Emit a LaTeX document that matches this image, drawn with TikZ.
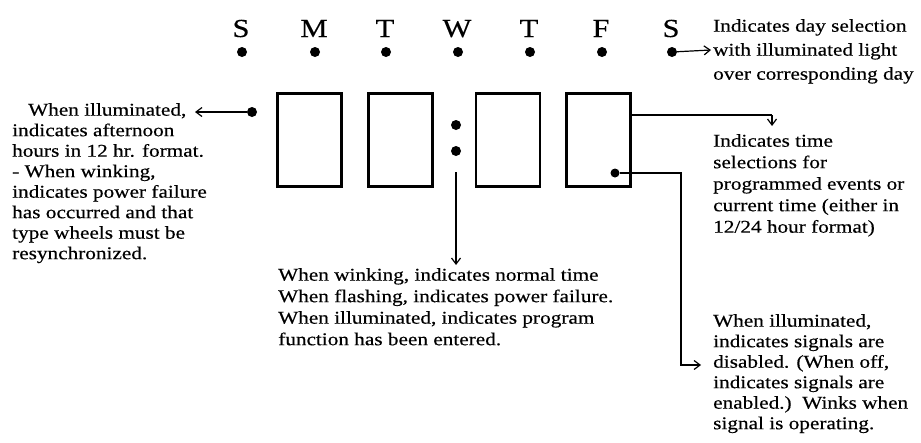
\documentclass[tikz,border=0pt]{standalone}
\usepackage{fontspec}
\setmainfont[FakeStretch=1.18, FakeBold=0.4]{Liberation Serif}
\usetikzlibrary{arrows.meta}

\tikzset{
  note/.style={anchor=north west, align=left, inner sep=0pt, font=\fontsize{18}{20.5}\selectfont},
  lamp/.style={circle, fill=black, inner sep=0pt, minimum size=10pt},
  digit/.style={draw, line width=2.4pt, minimum width=64pt, minimum height=93pt, inner sep=0pt},
  dayname/.style={anchor=base, font=\fontsize{26}{26}\selectfont},
  lead/.style={line width=1.2pt, -{Straight Barb[length=6pt,width=9pt]}}
}

\begin{document}
\begin{tikzpicture}[x=1pt, y=-1pt]
            \useasboundingbox (0,0) rectangle (921,442);
               % day row
               \foreach \d/\x [count=\i] in {S/241,M/314,T/385,W/457,T/529,F/601,S/671} {
                 \node [dayname] (day\i) at (\x,37) {\d};
                 \node [lamp] (lamp\i) at (\x+1,52) {};
               }
               % digits
               \node [digit] (dig1) at (309.5,140) {};
               \node [digit] (dig2) at (400.5,140) {};
               \node [digit] (dig3) at (508,140) {};
               \node [digit] (dig4) at (598.5,140) {};
               \node [lamp] (pm) at (252,112) {};
               \node [lamp] (colA) at (456,125) {};
               \node [lamp] (colB) at (456,151) {};
               \node [lamp, minimum size=9pt] (sig) at (615,173) {};
               % notes
               \node [note] (pmnote) at (12,103) {\hspace*{16pt}When illuminated,\\indicates afternoon\\hours in 12 hr. format.\\- When winking,\\indicates power failure\\has occurred and that\\type wheels must be\\resynchronized.};
               \node [note, font=\fontsize{18}{24}\selectfont] (daynote) at (713,19) {Indicates day selection\\with illuminated light\\over corresponding day};
               \node [note, font=\fontsize{18}{21.5}\selectfont] (timenote) at (713,134) {Indicates time\\selections for\\programmed events or\\current time (either in\\12/24 hour format)};
               \node [note] (signote) at (713,314) {When illuminated,\\indicates signals are\\disabled. (When off,\\indicates signals are\\enabled.)\ \ Winks when\\signal is operating.};
               \node [note, font=\fontsize{18}{21.5}\selectfont] (colnote) at (278,268) {When winking, indicates normal time\\When flashing, indicates power failure.\\When illuminated, indicates program\\function has been entered.};
               % leads
               \coordinate (pmtip) at (195,112);
               \coordinate (daytip) at (711,50);
               \coordinate (timetip) at (772,126);
               \coordinate (coltip) at (456,265);
               \coordinate (sigtip) at (701,365);
               \draw [lead] (pm) -- (pmtip);
               \draw [lead] (lamp7) -- (daytip);
               \draw [line width=1.2pt] (dig4.east |- 0,115) -- (timetip |- 0,115);
               \draw [lead] (timetip |- 0,115) -- (timetip);
               \draw [lead] (456,172) -- (coltip);
               \draw [lead] (sig) -| (681,365) -- (sigtip);
           \end{tikzpicture}
\end{document}
